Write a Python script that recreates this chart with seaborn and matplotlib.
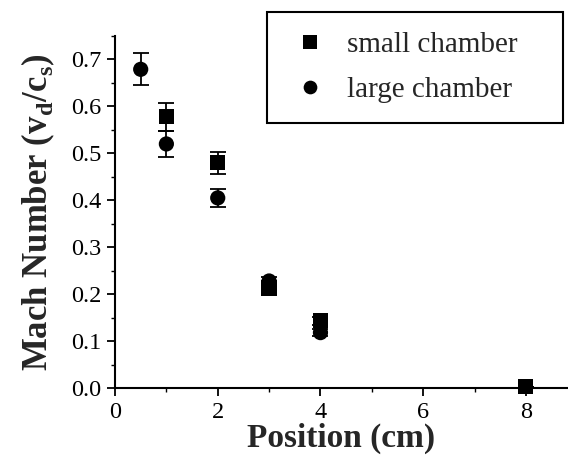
import matplotlib
matplotlib.use("Agg")
import matplotlib.pyplot as plt
from matplotlib.ticker import MultipleLocator
import seaborn as sns
import pandas as pd

# Measured drift Mach number along the chamber axis
small_pos = [1, 2, 3, 4, 8]
small_mach = [0.578, 0.480, 0.213, 0.143, 0.003]
small_err = [0.030, 0.023, 0.008, 0.008, 0.0]

large_pos = [0.5, 1, 2, 3, 4]
large_mach = [0.679, 0.520, 0.405, 0.228, 0.118]
large_err = [0.034, 0.027, 0.020, 0.008, 0.008]

series_names = ["small chamber", "large chamber"]

df = pd.concat([
    pd.DataFrame({"pos": small_pos, "mach": small_mach, "err": small_err,
                  "chamber": series_names[0]}),
    pd.DataFrame({"pos": large_pos, "mach": large_mach, "err": large_err,
                  "chamber": series_names[1]}),
], ignore_index=True)

sns.set_style("ticks")
plt.rcParams["font.family"] = ["Liberation Serif", "DejaVu Serif"]
plt.rcParams["mathtext.fontset"] = "custom"
plt.rcParams["mathtext.rm"] = "Liberation Serif"
plt.rcParams["mathtext.bf"] = "Liberation Serif:bold"

W, H = 568, 465
fig = plt.figure(figsize=(W / 100, H / 100), dpi=100)
ax = fig.add_axes([0.2025, 0.1656, 0.7975, 0.757])

# error bars first so markers sit on top
for name, sub in df.groupby("chamber", sort=False):
    ax.errorbar(sub["pos"], sub["mach"], yerr=sub["err"], fmt="none",
                ecolor="black", elinewidth=1.3, capsize=6, capthick=1.3,
                zorder=2, clip_on=False)

sns.scatterplot(data=df, x="pos", y="mach", style="chamber",
                markers={series_names[0]: "s", series_names[1]: "o"},
                color="black", s=120, edgecolor="black", linewidth=0,
                ax=ax, zorder=3, clip_on=False, legend=True)

ax.set_xlim(0, 8.82)
ax.set_ylim(0, 0.75)
ax.xaxis.set_major_locator(MultipleLocator(2))
ax.xaxis.set_minor_locator(MultipleLocator(1))
ax.yaxis.set_major_locator(MultipleLocator(0.1))
ax.yaxis.set_minor_locator(MultipleLocator(0.05))
ax.yaxis.set_major_formatter(plt.FormatStrFormatter("%.1f"))

for side in ("top", "right"):
    ax.spines[side].set_visible(False)
for side in ("left", "bottom"):
    ax.spines[side].set_linewidth(1.5)
    ax.spines[side].set_color("black")

ax.tick_params(axis="both", which="major", direction="out", length=6,
               width=1.3, colors="black", labelsize=17.5, pad=4)
ax.tick_params(axis="both", which="minor", direction="out", length=3,
               width=1.0, colors="black")

ax.set_xlabel("Position (cm)", fontsize=24, fontweight="bold", labelpad=0)
ax.set_ylabel(r"Mach Number (v$_\mathbf{d}$/c$_\mathbf{s}$)", fontsize=25,
              fontweight="bold", labelpad=10)

handles, labels = ax.get_legend_handles_labels()
ax.legend(handles=handles, labels=labels, loc="upper left",
          bbox_to_anchor=(267 / W, 1 - 125 / H, 296 / W, 113 / H),
          bbox_transform=fig.transFigure, mode="expand",
          frameon=True, fancybox=False, edgecolor="black", framealpha=1,
          fontsize=21, borderpad=0.68, handlelength=1.6, handletextpad=0.45,
          labelspacing=0.63, borderaxespad=0, markerscale=0.9)
ax.get_legend().get_frame().set_linewidth(1.5)

fig.savefig("out.png", dpi=100)
